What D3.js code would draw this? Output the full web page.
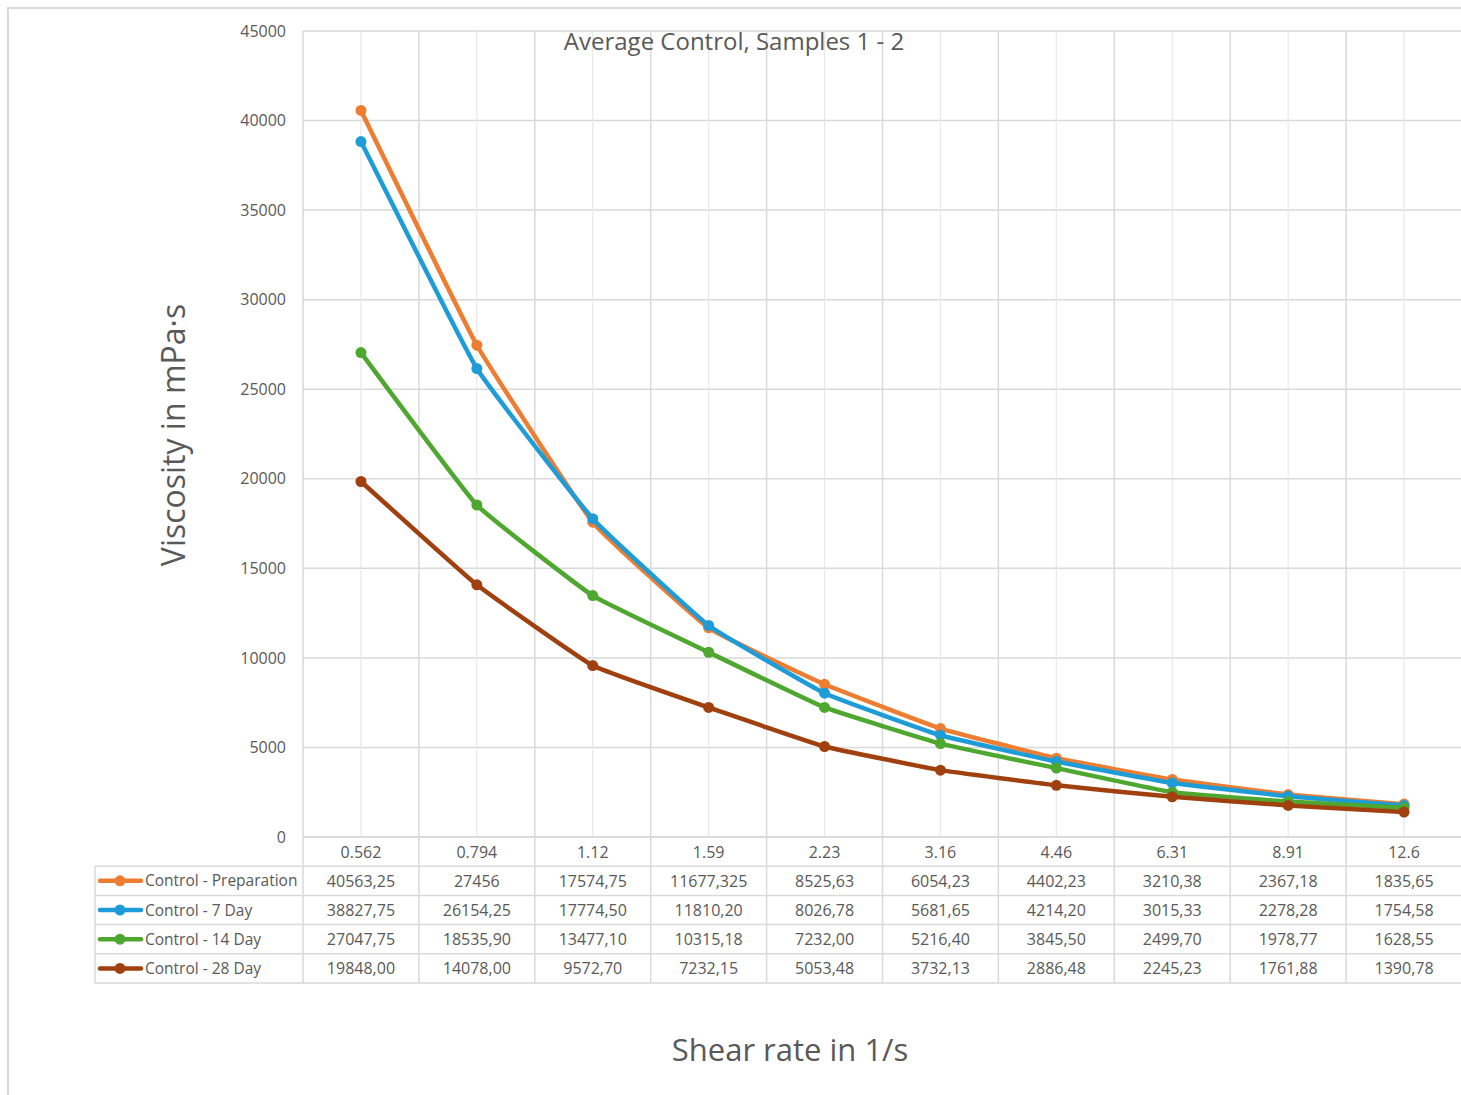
<!DOCTYPE html>
<html>
<head>
<meta charset="utf-8">
<script src="https://cdn.jsdelivr.net/npm/d3@7"></script>
<style>
  body{margin:0;background:#fff;}
  svg{display:block;font-family:"Open Sans",sans-serif;}
</style>
</head>
<body>
<svg width="1461" height="1095"></svg>
<script>
// shear rates (categories)
var categories=['0.562','0.794','1.12','1.59','2.23','3.16','4.46','6.31','8.91','12.6'];
// table values, as printed (decimal comma)
var prep=['40563,25','27456','17574,75','11677,325','8525,63','6054,23','4402,23','3210,38','2367,18','1835,65'];
var day7=['38827,75','26154,25','17774,50','11810,20','8026,78','5681,65','4214,20','3015,33','2278,28','1754,58'];
var day14=['27047,75','18535,90','13477,10','10315,18','7232,00','5216,40','3845,50','2499,70','1978,77','1628,55'];
var day28=['19848,00','14078,00','9572,70','7232,15','5053,48','3732,13','2886,48','2245,23','1761,88','1390,78'];
var seriesNames=['Control - Preparation','Control - 7 Day','Control - 14 Day','Control - 28 Day'];
var seriesColors=['#ED7D31','#1E9CD7','#4EA72E','#A0400F'];
var yTicks=[0,5000,10000,15000,20000,25000,30000,35000,40000,45000];

var seriesRows=[prep,day7,day14,day28];
var toNum=function(s){return +s.replace(',','.');};

var svg=d3.select('svg');
var margin={top:31,left:303,right:-1,bottom:258};
var width=1461,height=1095;
var plotBottom=height-margin.bottom;   // 837
var plotRight=width-margin.right;

var x=d3.scaleBand().domain(categories).range([margin.left,plotRight]);
var y=d3.scaleLinear().domain([0,45000]).range([plotBottom,margin.top]);

var grid='#d9d9d9';
var textCol='#595959';

// outer chart border
svg.append('rect').attr('x',8).attr('y',8).attr('width',width+20).attr('height',height+20)
  .attr('fill','none').attr('stroke',grid).attr('stroke-width',2);

// horizontal gridlines
svg.append('g').selectAll('line').data(yTicks).enter().append('line')
  .attr('x1',margin.left).attr('x2',plotRight)
  .attr('y1',function(d){return y(d);}).attr('y2',function(d){return y(d);})
  .attr('stroke',grid).attr('stroke-width',1.5);

// vertical gridlines at category centers (light)
svg.append('g').selectAll('line').data(categories).enter().append('line')
  .attr('x1',function(d){return x(d)+x.bandwidth()/2;})
  .attr('x2',function(d){return x(d)+x.bandwidth()/2;})
  .attr('y1',margin.top).attr('y2',plotBottom)
  .attr('stroke','#e8e8e8').attr('stroke-width',1.2);

// table geometry
var rowH=29.2;
var tableLeft=95;
var tableBottom=plotBottom+rowH*5;

// vertical lines at category boundaries, through the table
var bounds=categories.map(function(d){return x(d);}).concat([plotRight]);
svg.append('g').selectAll('line').data(bounds).enter().append('line')
  .attr('x1',function(d){return d;}).attr('x2',function(d){return d;})
  .attr('y1',margin.top).attr('y2',tableBottom)
  .attr('stroke',grid).attr('stroke-width',1.5);

// table horizontal lines
var rowsY=d3.range(6).map(function(i){return plotBottom+rowH*i;});
svg.append('g').selectAll('line').data(rowsY).enter().append('line')
  .attr('x1',function(d,i){return i<1?margin.left:tableLeft;})
  .attr('x2',plotRight)
  .attr('y1',function(d){return d;}).attr('y2',function(d){return d;})
  .attr('stroke',grid).attr('stroke-width',1.5);
svg.append('line').attr('x1',tableLeft).attr('x2',tableLeft)
  .attr('y1',plotBottom+rowH).attr('y2',tableBottom)
  .attr('stroke',grid).attr('stroke-width',1.5);

// y axis labels
var yAxis=d3.axisLeft(y).tickValues(yTicks).tickSize(0).tickPadding(17).tickFormat(d3.format('d'));
var yGroup=svg.append('g').attr('transform','translate('+margin.left+',0)').call(yAxis);
yGroup.select('.domain').remove();
yGroup.selectAll('text').attr('fill',textCol).style('font-size','16px').style('font-family','"Open Sans",sans-serif');

// category row
svg.append('g').selectAll('text').data(categories).enter().append('text')
  .attr('x',function(d){return x(d)+x.bandwidth()/2;})
  .attr('y',plotBottom+rowH/2+6)
  .attr('text-anchor','middle').attr('fill',textCol).style('font-size','16px')
  .text(function(d){return d;});

// data rows
seriesRows.forEach(function(row,si){
  var cy=plotBottom+rowH*(si+1)+rowH/2;
  svg.append('line').attr('x1',100).attr('x2',141).attr('y1',cy).attr('y2',cy)
    .attr('stroke',seriesColors[si]).attr('stroke-width',4.5).attr('stroke-linecap','round');
  svg.append('circle').attr('cx',120).attr('cy',cy).attr('r',5.5).attr('fill',seriesColors[si]);
  svg.append('text').attr('x',145).attr('y',cy+5.5).attr('fill',textCol).style('font-size','15.5px')
    .text(seriesNames[si]);
  svg.append('g').selectAll('text').data(row).enter().append('text')
    .attr('x',function(d,i){return x(categories[i])+x.bandwidth()/2;})
    .attr('y',cy+6).attr('text-anchor','middle').attr('fill',textCol).style('font-size','16px')
    .text(function(d){return d;});
});

// lines and markers
var line=d3.line()
  .x(function(d,i){return x(categories[i])+x.bandwidth()/2;})
  .y(function(d){return y(toNum(d));})
  .curve(d3.curveCardinal.tension(0.7));

seriesRows.forEach(function(row,si){
  svg.append('path').datum(row).attr('d',line)
    .attr('fill','none').attr('stroke',seriesColors[si]).attr('stroke-width',4.5)
    .attr('stroke-linejoin','round');
  svg.append('g').selectAll('circle').data(row).enter().append('circle')
    .attr('cx',function(d,i){return x(categories[i])+x.bandwidth()/2;})
    .attr('cy',function(d){return y(toNum(d));})
    .attr('r',5.5).attr('fill',seriesColors[si]);
});

// titles
svg.append('text').attr('x',734).attr('y',50).attr('text-anchor','middle')
  .attr('fill',textCol).style('font-size','24px').text('Average Control, Samples 1 - 2');
svg.append('text').attr('transform','translate(185,435) rotate(-90)').attr('text-anchor','middle')
  .attr('fill',textCol).style('font-size','32px').text('Viscosity in mPa·s');
svg.append('text').attr('x',790).attr('y',1061).attr('text-anchor','middle')
  .attr('fill',textCol).style('font-size','31px').text('Shear rate in 1/s');
</script>
</body>
</html>
